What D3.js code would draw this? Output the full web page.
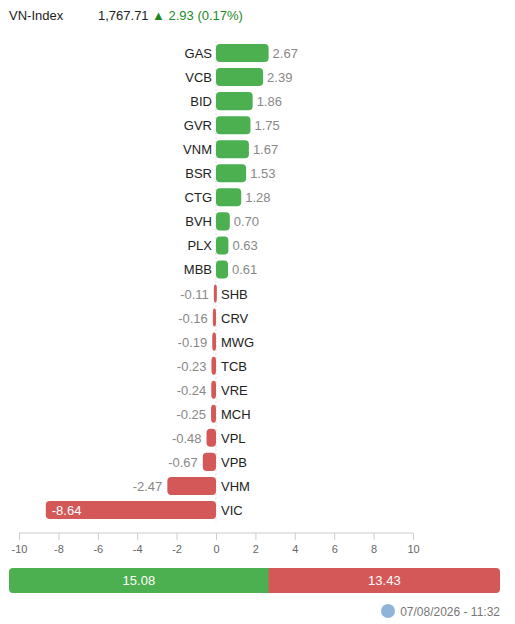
<!DOCTYPE html>
<html><head><meta charset="utf-8">
<script src="https://cdn.jsdelivr.net/npm/d3@7"></script>
<style>body{margin:0;background:#fff;font-family:"Liberation Sans",Arial,sans-serif}</style>
</head><body>
<svg id="c" width="515" height="624"></svg>
<script>
// tickers and their point contributions
var tickers = ["GAS","VCB","BID","GVR","VNM","BSR","CTG","BVH","PLX","MBB","SHB","CRV","MWG","TCB","VRE","MCH","VPL","VPB","VHM","VIC"];
var values = [2.67,2.39,1.86,1.75,1.67,1.53,1.28,0.70,0.63,0.61,-0.11,-0.16,-0.19,-0.23,-0.24,-0.25,-0.48,-0.67,-2.47,-8.64];
var totals = [15.08, 13.43];
var ticks = [-10,-8,-6,-4,-2,0,2,4,6,8,10];

var green = "#4caf50", red = "#d45858";
var svg = d3.select("#c");

// header
var h = svg.append("g").attr("font-size", 13);
h.append("text").attr("x", 9).attr("y", 20).text("VN-Index").attr("fill", "#222");
h.append("text").attr("x", 98).attr("y", 20).text("1,767.71").attr("fill", "#222");
h.append("text").attr("x", 152).attr("y", 20).text("▲ 2.93 (0.17%)").attr("fill", "#1e8a1e");

var x = d3.scaleLinear().domain([-10, 10]).range([19, 413]);
var y = d3.scaleBand().domain(tickers).range([41, 522]).paddingInner(0.25).paddingOuter(0.125);

// zero line
svg.append("line").attr("x1", x(0)).attr("x2", x(0)).attr("y1", 41).attr("y2", 522)
  .attr("stroke", "#ddd").attr("stroke-dasharray", "2,2");

var rows = svg.selectAll("g.row").data(tickers).enter().append("g").attr("class", "row");
rows.append("rect")
  .attr("x", function(d, i){ return x(Math.min(0, values[i])); })
  .attr("y", function(d){ return y(d); })
  .attr("width", function(d, i){ return Math.max(3, Math.abs(x(values[i]) - x(0))); })
  .attr("height", y.bandwidth())
  .attr("rx", 4)
  .attr("fill", function(d, i){ return values[i] >= 0 ? green : red; });

rows.append("text")
  .attr("x", function(d, i){ return values[i] >= 0 ? x(0) - 4 : x(0) + 5; })
  .attr("y", function(d){ return y(d) + y.bandwidth() / 2 + 5; })
  .attr("text-anchor", function(d, i){ return values[i] >= 0 ? "end" : "start"; })
  .attr("font-size", 13).attr("fill", "#222").text(function(d){ return d; });

rows.append("text")
  .attr("x", function(d, i){
    var v = values[i];
    if (v < -5) return x(v) + 6;
    return v >= 0 ? x(v) + 4 : x(v) - 5;
  })
  .attr("y", function(d){ return y(d) + y.bandwidth() / 2 + 5; })
  .attr("text-anchor", function(d, i){ return values[i] >= 0 || values[i] < -5 ? "start" : "end"; })
  .attr("font-size", 13)
  .attr("fill", function(d, i){ return values[i] < -5 ? "#fff" : "#888"; })
  .text(function(d, i){ return values[i].toFixed(2); });

// axis
var ax = svg.append("g").attr("transform", "translate(0,533)")
  .call(d3.axisBottom(x).tickValues(ticks).tickSize(7).tickFormat(d3.format("d")));
ax.select(".domain").attr("stroke", "#ccc").attr("d", "M19,0H413");
ax.selectAll(".tick line").attr("stroke", "#ccc").attr("y1", 0);
ax.selectAll(".tick text").attr("fill", "#666").attr("font-size", 11)
  .attr("font-family", "Liberation Sans, Arial, sans-serif").attr("dy", "0.9em")
  .text(function(d){ return d < 0 ? "-" + Math.abs(d) : d; });

// totals bar
var tx = d3.scaleLinear().domain([0, d3.sum(totals)]).range([9, 500]);
svg.append("rect").attr("x", tx(0)).attr("y", 568).attr("width", tx(totals[0]) - tx(0) + 5)
  .attr("height", 25).attr("rx", 4).attr("fill", green);
svg.append("rect").attr("x", tx(totals[0])).attr("y", 568).attr("width", tx(d3.sum(totals)) - tx(totals[0]))
  .attr("height", 25).attr("rx", 4).attr("fill", red);
svg.append("rect").attr("x", tx(totals[0])).attr("y", 568).attr("width", 6).attr("height", 25).attr("fill", red);
svg.append("text").attr("x", (tx(0) + tx(totals[0])) / 2).attr("y", 585).attr("text-anchor", "middle")
  .attr("fill", "#fff").attr("font-size", 13).text(totals[0].toFixed(2));
svg.append("text").attr("x", (tx(totals[0]) + tx(d3.sum(totals))) / 2).attr("y", 585).attr("text-anchor", "middle")
  .attr("fill", "#fff").attr("font-size", 13).text(totals[1].toFixed(2));

// footer
svg.append("circle").attr("cx", 388).attr("cy", 611).attr("r", 7).attr("fill", "#8fb4d8");
svg.append("text").attr("x", 500).attr("y", 616).attr("text-anchor", "end")
  .attr("fill", "#777").attr("font-size", 12).text("07/08/2026 - 11:32");
</script>
</body></html>
